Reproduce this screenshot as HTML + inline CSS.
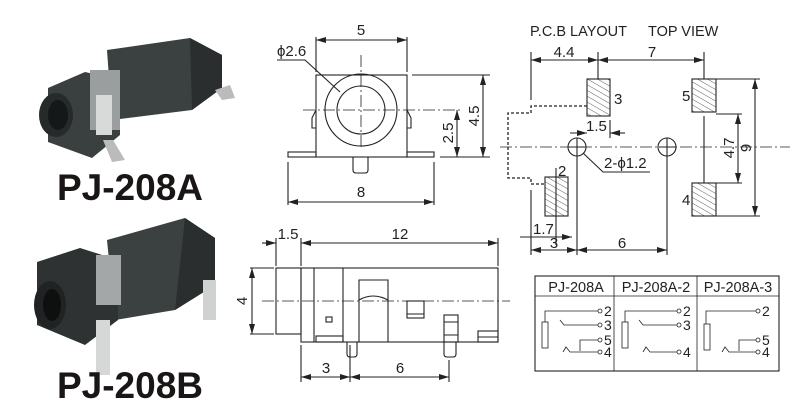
<!DOCTYPE html><html><head><style>body{margin:0;background:#fff}svg{display:block}</style></head><body>
<svg width="800" height="405" viewBox="0 0 800 405" xmlns="http://www.w3.org/2000/svg" font-family="Liberation Sans, sans-serif">
<defs>
<pattern id="h" width="5" height="5" patternUnits="userSpaceOnUse" patternTransform="rotate(-60)"><line x1="0" y1="0" x2="0" y2="5" stroke="#333" stroke-width="0.8"/></pattern>
<marker id="a" viewBox="0 0 10 6" refX="10" refY="3" markerWidth="10" markerHeight="6" orient="auto-start-reverse" markerUnits="userSpaceOnUse"><path d="M0,0L10,3L0,6z" fill="#222"/></marker>
</defs>
<!-- photo A -->
<g>
<polygon points="107,50 190,38 222,55 222,88 192,110 112,120" fill="#3b4040"/>
<polygon points="190,38 222,55 222,88 192,110" fill="#2a2e2e"/>
<polygon points="48,88 85,72 120,80 120,135 92,158 48,142" fill="#3a3f3f"/>
<ellipse cx="56" cy="115" rx="17" ry="22" fill="#262a2a"/>
<ellipse cx="58" cy="115" rx="10" ry="15" fill="#151818"/>
<rect x="90" y="70" width="30" height="60" fill="#9a9e9e"/>
<rect x="96" y="95" width="16" height="40" fill="#d8dada"/>
<polygon points="103,140 113,140 125,160 112,162" fill="#bbb"/>
<polygon points="215,90 230,85 235,98 222,100" fill="#bbb"/>
</g>
<text x="130" y="200" font-size="37" font-weight="bold" text-anchor="middle" fill="#1a1616">PJ-208A</text>
<!-- photo B -->
<g>
<polygon points="107,240 185,218 215,238 215,285 175,310 115,320" fill="#3b4040"/>
<polygon points="185,218 215,238 215,285 175,310" fill="#2a2e2e"/>
<polygon points="37,262 80,248 118,260 118,320 85,345 37,325" fill="#2e3232"/>
<ellipse cx="50" cy="305" rx="16" ry="24" fill="#202323"/>
<ellipse cx="52" cy="305" rx="9" ry="16" fill="#0e1010"/>
<rect x="96" y="255" width="25" height="50" fill="#a3a7a7"/>
<rect x="96" y="320" width="14" height="55" fill="#d6d8d8"/>
<rect x="203" y="280" width="13" height="40" fill="#d0d2d2"/>
</g>
<text x="130" y="398" font-size="37" font-weight="bold" text-anchor="middle" fill="#1a1616">PJ-208B</text>

<g stroke="#222" stroke-width="1.1" fill="none">
<!-- front view -->
<rect x="316" y="75" width="91" height="82"/>
<rect x="288" y="152" width="28" height="5"/>
<rect x="407" y="152" width="27" height="5"/>
<path d="M353,157 V170 Q353,173 356,173 H365 Q368,173 368,170 V157"/>
<path d="M316,110 L312,118 L312,128 L316,128 M407,110 L411,118 L411,128 L407,128"/>
<circle cx="361" cy="110" r="36"/>
<circle cx="361" cy="110" r="24"/>
<path d="M361,55 V150 M303,110 H460" stroke-dasharray="12,3,2,3" stroke-width="0.8"/>
<path d="M316,72 V37 M407,72 V37 M412,75 H490 M440,157 H490 M288,162 V205 M434,162 V205"/>
<line x1="316" y1="40" x2="407" y2="40" marker-start="url(#a)" marker-end="url(#a)"/>
<line x1="483" y1="75" x2="483" y2="157" marker-start="url(#a)" marker-end="url(#a)"/>
<line x1="457" y1="110" x2="457" y2="157" marker-start="url(#a)" marker-end="url(#a)"/>
<line x1="288" y1="202" x2="434" y2="202" marker-start="url(#a)" marker-end="url(#a)"/>
<path d="M277,60 H305 L340,92"/>
<!-- side view -->
<rect x="276" y="268" width="25" height="66"/>
<rect x="301" y="268" width="197" height="74"/>
<path d="M314,268 V342 M343,268 V342 M359,342 V280 H388 V342 M359,300 Q373,292 388,300"/>
<rect x="326" y="317" width="6" height="5"/>
<rect x="407" y="301" width="17" height="17"/><line x1="407" y1="314" x2="424" y2="314"/>
<rect x="444" y="315" width="14" height="27"/><path d="M444,322 H458 M444,335 H458"/>
<rect x="478" y="331" width="20" height="11"/><path d="M478,337 H498"/>
<rect x="316" y="336" width="27" height="6"/>
<path d="M347,342 V354 Q347,357 350,357 H354 Q357,357 357,354 V342"/>
<path d="M444,342 V354 Q444,357 447,357 H453 Q456,357 456,354 V342"/>
<path d="M262,301 H510" stroke-dasharray="12,3,2,3" stroke-width="0.8"/>
<path d="M276,266 V238 M301,266 V238 M498,266 V238 M250,268 H274 M250,334 H274 M301,345 V382 M350,345 V382 M449,360 V382"/>
<line x1="262" y1="243" x2="276" y2="243" marker-end="url(#a)"/>
<line x1="301" y1="243" x2="498" y2="243" marker-start="url(#a)" marker-end="url(#a)"/>
<line x1="252" y1="268" x2="252" y2="334" marker-start="url(#a)" marker-end="url(#a)"/>
<line x1="301" y1="377" x2="350" y2="377" marker-start="url(#a)" marker-end="url(#a)"/>
<line x1="350" y1="377" x2="449" y2="377" marker-start="url(#a)" marker-end="url(#a)"/>
<!-- PCB -->
<rect x="587" y="79" width="23" height="37" fill="url(#h)"/>
<rect x="692" y="79" width="24" height="33" fill="url(#h)"/>
<rect x="545" y="177" width="23" height="39" fill="url(#h)"/>
<rect x="692" y="183" width="24" height="33" fill="url(#h)"/>
<circle cx="577" cy="147" r="9"/><circle cx="667" cy="147" r="9"/>
<path d="M577,138 V158 M667,138 V158 M569,147 H585 M659,147 H675"/>
<path d="M500,147 H790" stroke-dasharray="12,3,2,3" stroke-width="0.8"/>
<path d="M587,106 H531 V113 H508 V178 H531 V184 H545" stroke-dasharray="3,2" stroke-width="1.3"/>
<path d="M531,52 V100 M598,52 V79 M704,52 V79 M704,116 V183 M556,168 V245 M577,158 V255 M667,158 V255 M531,190 V255 M716,79 H760 M716,216 H760 M716,114 H742 M716,183 H742 M610,120 V138"/>
<line x1="531" y1="60" x2="598" y2="60" marker-start="url(#a)" marker-end="url(#a)"/>
<line x1="598" y1="60" x2="704" y2="60" marker-start="url(#a)" marker-end="url(#a)"/>
<line x1="755" y1="79" x2="755" y2="216" marker-start="url(#a)" marker-end="url(#a)"/>
<line x1="738" y1="114" x2="738" y2="183" marker-start="url(#a)" marker-end="url(#a)"/>
<line x1="570" y1="133" x2="587" y2="133" marker-end="url(#a)"/>
<line x1="625" y1="133" x2="610" y2="133" marker-end="url(#a)"/>
<line x1="520" y1="237" x2="572" y2="237" marker-end="url(#a)"/>
<line x1="531" y1="250" x2="577" y2="250" marker-start="url(#a)" marker-end="url(#a)"/>
<line x1="577" y1="250" x2="667" y2="250" marker-start="url(#a)" marker-end="url(#a)"/>
<path d="M583,153 L603,172 H650"/>
<!-- table -->
<rect x="535" y="276" width="244" height="95"/>
<path d="M535,296 H779 M614,276 V371 M697,276 V371" stroke-width="0.8"/>
<g stroke-width="0.8">
<path d="M598,311 H545 V322 M598,325 H564 L560,320 M598,340 H580 V351 M598,352 H570 L566,347 L563,352"/><rect x="542" y="322" width="6" height="26"/>
<circle cx="600" cy="311" r="2"/><circle cx="600" cy="325" r="2"/><circle cx="600" cy="340" r="2"/><circle cx="600" cy="352" r="2"/>
<path d="M677,311 H625 V322 M677,325 H643 L639,320 M677,352 H650 L646,347 L643,352"/><rect x="622" y="322" width="6" height="26"/>
<circle cx="679" cy="311" r="2"/><circle cx="679" cy="325" r="2"/><circle cx="679" cy="352" r="2"/>
<path d="M756,311 H706 V324 M756,340 H739 V351 M756,352 H729 L725,347 L722,352"/><rect x="704" y="324" width="6" height="26"/>
<circle cx="758" cy="311" r="2"/><circle cx="758" cy="340" r="2"/><circle cx="758" cy="352" r="2"/>
</g>
</g>
<g font-size="15" fill="#222">
<text x="361" y="35" text-anchor="middle">5</text>
<text x="277" y="56">ϕ2.6</text>
<text x="361" y="197" text-anchor="middle">8</text>
<text transform="translate(479,116) rotate(-90)" text-anchor="middle">4.5</text>
<text transform="translate(453,133) rotate(-90)" text-anchor="middle">2.5</text>
<text x="288" y="239" text-anchor="middle">1.5</text>
<text x="400" y="239" text-anchor="middle">12</text>
<text transform="translate(247,301) rotate(-90)" text-anchor="middle">4</text>
<text x="326" y="373" text-anchor="middle">3</text>
<text x="400" y="373" text-anchor="middle">6</text>
<text x="530" y="36" font-size="14.5">P.C.B LAYOUT</text>
<text x="648" y="36" font-size="14.5">TOP VIEW</text>
<text x="564" y="57" text-anchor="middle">4.4</text>
<text x="652" y="57" text-anchor="middle">7</text>
<text x="614" y="104">3</text>
<text x="682" y="101">5</text>
<text x="682" y="205">4</text>
<text x="558" y="176">2</text>
<text x="586" y="131">1.5</text>
<text x="604" y="168">2-ϕ1.2</text>
<text x="533" y="234">1.7</text>
<text x="554" y="248" text-anchor="middle">3</text>
<text x="622" y="248" text-anchor="middle">6</text>
<text transform="translate(734,148) rotate(-90)" text-anchor="middle">4.7</text>
<text transform="translate(751,148) rotate(-90)" text-anchor="middle">9</text>
<text x="576" y="292" text-anchor="middle" font-size="14.5">PJ-208A</text>
<text x="656" y="292" text-anchor="middle" font-size="14.5">PJ-208A-2</text>
<text x="738" y="292" text-anchor="middle" font-size="14.5">PJ-208A-3</text>
<g font-size="14">
<text x="604" y="316">2</text><text x="604" y="330">3</text><text x="604" y="345">5</text><text x="604" y="357">4</text>
<text x="683" y="316">2</text><text x="683" y="330">3</text><text x="683" y="357">4</text>
<text x="762" y="316">2</text><text x="762" y="345">5</text><text x="762" y="357">4</text>
</g>
</g>
</svg>
</body></html>
